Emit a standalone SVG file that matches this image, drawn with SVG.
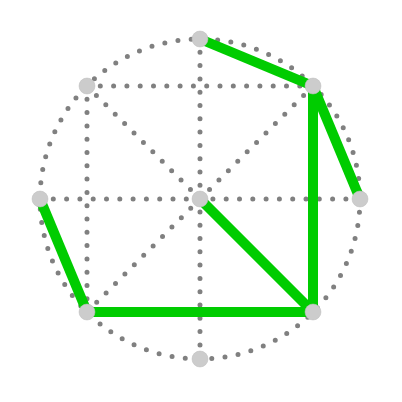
<svg xmlns="http://www.w3.org/2000/svg" width="402" height="402" viewBox="0 0 402 402">
<style>
.dot{fill:none;stroke:#808080;stroke-width:5;stroke-linecap:round;stroke-dasharray:0 13.3}
.edge{stroke:#00cc00;stroke-width:10;stroke-linecap:butt}
.node{fill:#cccccc;stroke:#bdbdbd;stroke-width:0.5}
</style>
<rect width="402" height="402" fill="#ffffff"/>
<g id="connectors">
<circle class="dot" cx="200" cy="199" r="160"/>
<line class="dot" x1="87" y1="86" x2="313" y2="86"/>
<line class="dot" x1="40" y1="199" x2="360" y2="199"/>
<line class="dot" x1="87" y1="312" x2="313" y2="312"/>
<line class="dot" x1="87" y1="86" x2="87" y2="312"/>
<line class="dot" x1="200" y1="39" x2="200" y2="359"/>
<line class="dot" x1="313" y1="86" x2="313" y2="312"/>
<line class="dot" x1="87" y1="86" x2="313" y2="312"/>
<line class="dot" x1="313" y1="86" x2="87" y2="312"/>
<line class="edge" x1="200" y1="39" x2="313" y2="86"/>
<line class="edge" x1="313" y1="86" x2="360" y2="199"/>
<line class="edge" x1="313" y1="86" x2="313" y2="312"/>
<line class="edge" x1="200" y1="199" x2="313" y2="312"/>
<line class="edge" x1="87" y1="312" x2="313" y2="312"/>
<line class="edge" x1="40" y1="199" x2="87" y2="312"/>
</g>
<g id="n-top"><circle class="node" cx="200" cy="39" r="8"/></g>
<g id="n-topright"><circle class="node" cx="313" cy="86" r="8"/></g>
<g id="n-right"><circle class="node" cx="360" cy="199" r="8"/></g>
<g id="n-bottomright"><circle class="node" cx="313" cy="312" r="8"/></g>
<g id="n-bottom"><circle class="node" cx="200" cy="359" r="8"/></g>
<g id="n-bottomleft"><circle class="node" cx="87" cy="312" r="8"/></g>
<g id="n-left"><circle class="node" cx="40" cy="199" r="8"/></g>
<g id="n-topleft"><circle class="node" cx="87" cy="86" r="8"/></g>
<g id="n-center"><circle class="node" cx="200" cy="199" r="8"/></g>
</svg>
